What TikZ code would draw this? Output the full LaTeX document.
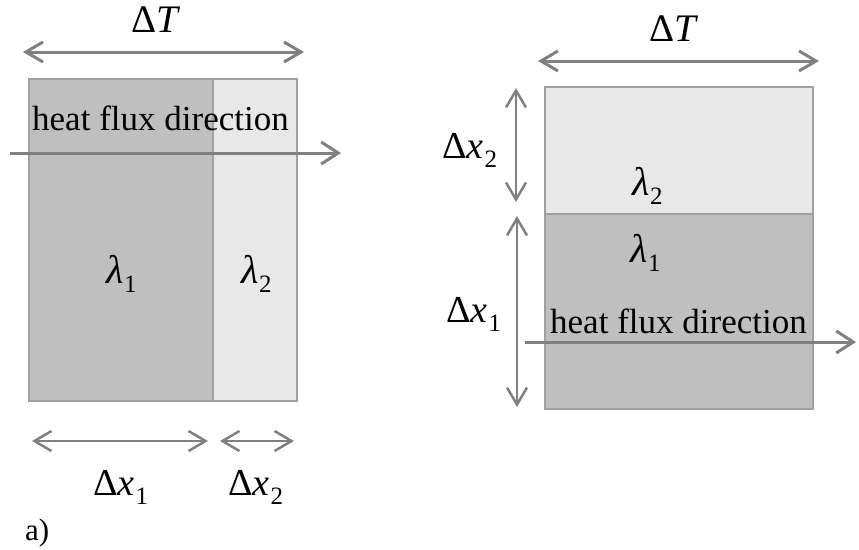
\documentclass[tikz,border=0pt]{standalone}
\usepackage{fontspec}
\setmainfont{Liberation Serif}
\usetikzlibrary{arrows.meta}
\definecolor{darkfill}{HTML}{BFBFBF}
\definecolor{lightfill}{HTML}{E8E8E8}
\definecolor{edgegray}{HTML}{A0A0A0}
\definecolor{arrgray}{HTML}{808080}
\newcommand{\dxs}[1]{Δ\textit{x}\kern1pt\raisebox{-9pt}{\fontsize{25}{25}\selectfont #1}}
\newcommand{\lam}[1]{\textit{λ}\kern0.5pt\raisebox{-9pt}{\fontsize{25}{25}\selectfont #1}}
\tikzset{
  layer/.style={draw=edgegray, line width=2pt, inner sep=0pt, outer sep=0pt, anchor=north west},
  dimarrow/.style={draw=arrgray, line width=2.5pt, {Straight Barb[length=17pt,width=20pt]}-{Straight Barb[length=17pt,width=20pt]}},
  fluxarrow/.style={draw=arrgray, line width=3pt, -{Straight Barb[length=17pt,width=22pt]}},
  bigtxt/.style={font=\fontsize{38}{42}\selectfont, inner sep=0pt},
  ttxt/.style={font=\fontsize{39}{44}\selectfont, inner sep=0pt, anchor=base},
  fluxtxt/.style={font=\fontsize{35}{40}\selectfont, inner sep=0pt, anchor=base west},
  lamtxt/.style={font=\fontsize{40}{44}\selectfont, inner sep=0pt, anchor=base west},
}
\begin{document}
\begin{tikzpicture}[x=1pt,y=-1pt]
\useasboundingbox (0,0) rectangle (859,549);
% ---------- left figure ----------
\node[layer, fill=darkfill, minimum width=184pt, minimum height=322pt] (L1) at (29,78.5) {};
\node[layer, fill=lightfill, minimum width=84pt, minimum height=322pt] (L2) at (213,78.5) {};
\node[fluxtxt] (Lflux) at (32,130) {heat flux direction};
\coordinate (Lfa) at (10,153);
\coordinate (Lfb) at (341,153);
\draw[fluxarrow] (Lfa) -- (Lfb);
\coordinate (LTa) at (23,52);
\coordinate (LTb) at (304,52);
\draw[dimarrow, line width=3pt] (LTa) -- (LTb);
\node[ttxt] (LT) at (156,32) {Δ\textit{T}};
\node[lamtxt] (Llam1) at (106,283) {\lam{1}};
\node[lamtxt] (Llam2) at (241,283) {\lam{2}};
\coordinate (Lx1a) at (32,441);
\coordinate (Lx1b) at (208,441);
\draw[dimarrow] (Lx1a) -- (Lx1b);
\coordinate (Lx2a) at (220,441);
\coordinate (Lx2b) at (294,441);
\draw[dimarrow] (Lx2a) -- (Lx2b);
\node[bigtxt, anchor=base west] (Ldx1) at (93,495) {\dxs{1}};
\node[bigtxt, anchor=base west] (Ldx2) at (228,495) {\dxs{2}};
\node[font=\fontsize{31}{34}\selectfont, inner sep=0pt, anchor=base west] (lbla) at (25,540) {a)};
% ---------- right figure ----------
\node[layer, fill=lightfill, minimum width=268pt, minimum height=127pt] (R2) at (545,87) {};
\node[layer, fill=darkfill, minimum width=268pt, minimum height=195pt] (R1) at (545,214) {};
\coordinate (RTa) at (538,61);
\coordinate (RTb) at (819,61);
\draw[dimarrow, line width=3pt] (RTa) -- (RTb);
\node[ttxt] (RT) at (674,41) {Δ\textit{T}};
\coordinate (Rx2a) at (516,88);
\coordinate (Rx2b) at (516,202);
\draw[dimarrow] (Rx2a) -- (Rx2b);
\coordinate (Rx1a) at (517,216);
\coordinate (Rx1b) at (517,407);
\draw[dimarrow] (Rx1a) -- (Rx1b);
\node[bigtxt, anchor=base west] (Rdx2) at (442,158) {\dxs{2}};
\node[bigtxt, anchor=base west] (Rdx1) at (446,322) {\dxs{1}};
\node[lamtxt] (Rlam2) at (632,195) {\lam{2}};
\node[lamtxt] (Rlam1) at (630,262) {\lam{1}};
\node[fluxtxt] (Rflux) at (550,333) {heat flux direction};
\coordinate (Rfa) at (525,342);
\coordinate (Rfb) at (856,342);
\draw[fluxarrow] (Rfa) -- (Rfb);
\end{tikzpicture}
\end{document}
